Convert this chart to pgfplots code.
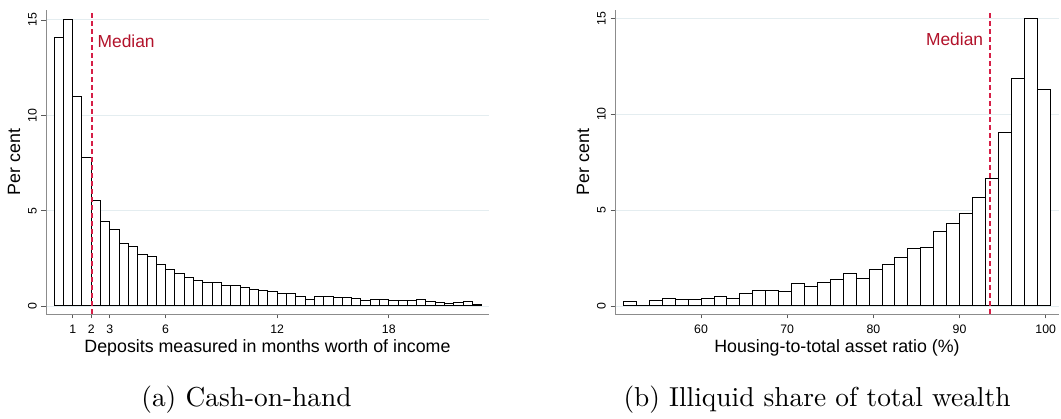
\documentclass[border=0pt]{standalone}
\usepackage{fontspec}
\usepackage{graphicx}
\usepackage{pgfplots}
\pgfplotsset{compat=1.18}
\newfontfamily\arial{Liberation Sans}
\definecolor{medline}{RGB}{214,30,70}
\definecolor{medtext}{RGB}{178,18,42}
\definecolor{gridc}{RGB}{228,237,240}
\definecolor{axc}{RGB}{140,140,140}
\pgfplotsset{
  statastyle/.style={
    scale only axis,
    anchor=south west,
    height=304pt,
    axis x line*=bottom,
    axis y line*=left,
    axis line style={axc, line width=0.9pt},
    ymajorgrids,
    major grid style={gridc, line width=0.9pt},
    tick align=outside,
    major tick length=4.5pt,
    tick style={black!65, line width=0.8pt},
    minor tick num=0,
    ytick={0,5,10,15},
    tick label style={font=\arial\fontsize{12.3}{12.3}\selectfont, /pgf/number format/assume math mode=true},
    yticklabel style={xshift=-5pt, rotate=90, anchor=base, inner sep=0pt},
    xticklabel style={yshift=-6pt, anchor=north, inner sep=0pt},
    label style={font=\arial\fontsize{17.8}{18}\selectfont},
    ylabel={Per cent},
    ylabel style={at={(axis description cs:-0.0585,0.5)}, rotate=0, anchor=base},
    xlabel style={at={(axis description cs:0.5,0)}, anchor=base, yshift=-39pt},
    clip=false,
  }
}
\begin{document}
\begin{tikzpicture}
\path[use as bounding box] (0pt,0pt) rectangle (1061pt,419pt);
\begin{axis}[statastyle,
  at={(46pt,105pt)}, width=443pt,
  xmin=-0.436, xmax=23.39, ymin=-0.42, ymax=15.52,
  xtick={1,2,3,6,12,18},
  xlabel={Deposits measured in months worth of income}]
\addplot[ybar interval, draw=black, fill=white, line width=1pt] coordinates {
(0,14.09)(0.5,15.03)(1,10.96)(1.5,7.76)(2,5.54)(2.5,4.42)(3,3.99)(3.5,3.30)(4,3.11)(4.5,2.71)(5,2.57)(5.5,2.20)(6,1.92)(6.5,1.71)(7,1.50)(7.5,1.35)(8,1.21)(8.5,1.22)(9,1.08)(9.5,1.07)(10,0.98)(10.5,0.89)(11,0.79)(11.5,0.77)(12,0.63)(12.5,0.65)(13,0.51)(13.5,0.35)(14,0.51)(14.5,0.51)(15,0.44)(15.5,0.44)(16,0.38)(16.5,0.30)(17,0.35)(17.5,0.33)(18,0.28)(18.5,0.30)(19,0.30)(19.5,0.33)(20,0.23)(20.5,0.19)(21,0.14)(21.5,0.19)(22,0.24)(22.5,0.07)(23,0.07)};
\addplot[medline, line width=2pt, dash pattern=on 5pt off 3pt] coordinates {(2.06,-0.42)(2.06,15.52)};
\node[anchor=west, inner sep=0pt, text=medtext, font=\arial\fontsize{17.4}{18}\selectfont] at (axis cs:2.06,13.9) [xshift=5pt] {Median};
\end{axis}
\begin{axis}[statastyle,
  at={(615pt,105pt)}, width=444pt,
  xmin=50.01, xmax=101.54, ymin=-0.417, ymax=15.43,
  xtick={60,70,80,90,100},
  xlabel={Housing-to-total asset ratio (\%)}]
\addplot[ybar interval, draw=black, fill=white, line width=1pt] coordinates {
(51,0.26)(52.5,0.02)(54,0.31)(55.5,0.38)(57,0.35)(58.5,0.33)(60,0.38)(61.5,0.49)(63,0.38)(64.5,0.66)(66,0.80)(67.5,0.80)(69,0.76)(70.5,1.18)(72,1.04)(73.5,1.22)(75,1.36)(76.5,1.71)(78,1.45)(79.5,1.92)(81,2.14)(82.5,2.53)(84,3.01)(85.5,3.05)(87,3.89)(88.5,4.29)(90,4.83)(91.5,5.68)(93,6.67)(94.5,9.02)(96,11.85)(97.5,14.98)(99,11.29)(100.5,11.29)};
\addplot[medline, line width=2pt, dash pattern=on 5pt off 3pt] coordinates {(93.57,-0.417)(93.57,15.43)};
\node[anchor=east, inner sep=0pt, text=medtext, font=\arial\fontsize{17.4}{18}\selectfont] at (axis cs:93.57,13.9) [xshift=-7pt] {Median};
\end{axis}
\node at (246.5pt,19pt) {\scalebox{2.74}{(a) Cash-on-hand}};
\node at (817pt,19pt) {\scalebox{2.74}{(b) Illiquid share of total wealth}};
\end{tikzpicture}
\end{document}
